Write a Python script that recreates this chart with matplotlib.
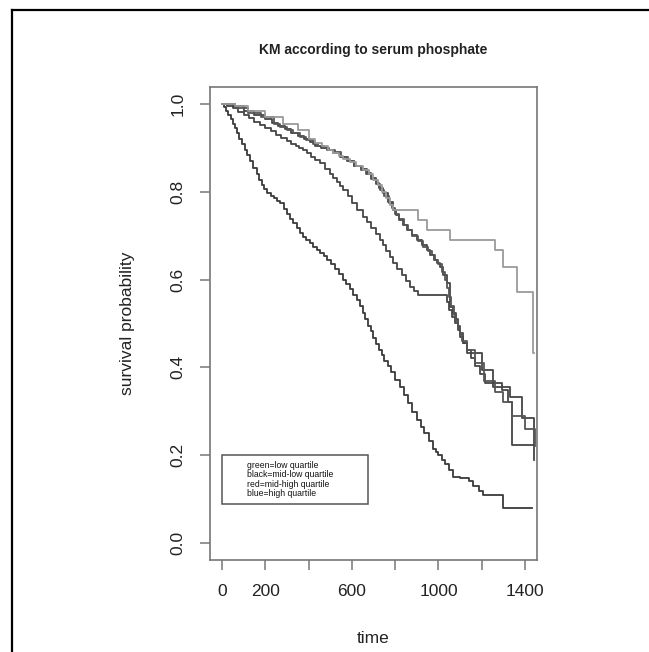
import matplotlib
matplotlib.use("Agg")
import matplotlib.pyplot as plt
from matplotlib.lines import Line2D

plt.rcParams['font.family'] = ['Liberation Sans', 'DejaVu Sans']

# Kaplan-Meier step points (time, survival)
low_t = [0, 10, 20, 30, 40, 50, 60, 70, 80, 92, 106, 118, 130, 145, 160, 172, 185, 196, 208, 225,
         240, 255, 268, 285, 300, 315, 330, 345, 360, 375, 390, 405, 420, 438, 455, 470, 485, 502,
         520, 540, 560, 575, 590, 607, 624, 638, 650, 663, 675, 687, 698, 712, 725, 738, 750, 765,
         780, 800, 822, 840, 860, 880, 900, 918, 935, 955, 975, 988, 1000, 1015, 1030, 1048, 1067,
         1100, 1140, 1160, 1185, 1206, 1298, 1432]
low_s = [1.0, 0.993, 0.985, 0.975, 0.965, 0.955, 0.945, 0.933, 0.92, 0.908, 0.895, 0.883, 0.87,
         0.855, 0.84, 0.828, 0.815, 0.806, 0.797, 0.791, 0.785, 0.779, 0.774, 0.762, 0.75, 0.739,
         0.728, 0.717, 0.706, 0.698, 0.69, 0.683, 0.675, 0.668, 0.66, 0.653, 0.645, 0.635, 0.625,
         0.612, 0.6, 0.589, 0.578, 0.566, 0.553, 0.539, 0.525, 0.51, 0.495, 0.482, 0.468, 0.454,
         0.44, 0.428, 0.415, 0.402, 0.39, 0.372, 0.355, 0.337, 0.318, 0.299, 0.28, 0.265, 0.25,
         0.232, 0.215, 0.207, 0.2, 0.19, 0.18, 0.165, 0.15, 0.148, 0.14, 0.13, 0.119, 0.108, 0.08,
         0.08]

midlow_t = [0, 25, 50, 75, 100, 125, 150, 175, 200, 225, 250, 275, 300, 320, 340, 357, 374, 392,
            410, 432, 453, 477, 500, 515, 530, 545, 560, 580, 600, 626, 652, 671, 690, 710, 730,
            745, 760, 775, 790, 810, 830, 850, 869, 888, 906, 1040, 1050, 1062, 1075, 1088, 1100,
            1115, 1131, 1150, 1169, 1192, 1215, 1292, 1323, 1339, 1440]
midlow_s = [1.0, 0.995, 0.99, 0.983, 0.975, 0.968, 0.96, 0.953, 0.945, 0.938, 0.93, 0.923, 0.915,
            0.91, 0.905, 0.9, 0.895, 0.888, 0.88, 0.873, 0.865, 0.853, 0.84, 0.831, 0.822, 0.813,
            0.804, 0.79, 0.775, 0.759, 0.743, 0.731, 0.718, 0.704, 0.69, 0.678, 0.665, 0.652,
            0.638, 0.624, 0.61, 0.597, 0.583, 0.574, 0.565, 0.55, 0.53, 0.515, 0.5, 0.485, 0.47,
            0.455, 0.44, 0.422, 0.403, 0.384, 0.364, 0.349, 0.322, 0.223, 0.223]

midhigh_t = [0, 50, 100, 150, 200, 230, 260, 290, 320, 350, 380, 405, 430, 458, 485, 515, 545,
             578, 610, 640, 670, 690, 710, 727, 744, 767, 790, 805, 820, 838, 855, 878, 900, 923,
             947, 963, 980, 993, 1007, 1023, 1040, 1054, 1067, 1080, 1090, 1100, 1115, 1131, 1200,
             1254, 1331, 1385, 1439]
midhigh_s = [1.0, 0.995, 0.985, 0.975, 0.965, 0.958, 0.95, 0.943, 0.935, 0.928, 0.92, 0.913,
             0.905, 0.9, 0.895, 0.888, 0.88, 0.87, 0.86, 0.852, 0.843, 0.832, 0.82, 0.808, 0.797,
             0.778, 0.758, 0.747, 0.735, 0.724, 0.713, 0.701, 0.69, 0.678, 0.667, 0.656, 0.645,
             0.637, 0.629, 0.61, 0.592, 0.538, 0.524, 0.51, 0.494, 0.478, 0.455, 0.432, 0.394,
             0.356, 0.333, 0.284, 0.19]

high_t = [0, 60, 120, 180, 240, 270, 300, 330, 360, 390, 420, 445, 470, 495, 520, 550, 580, 610,
          640, 665, 690, 710, 730, 750, 770, 785, 800, 820, 840, 860, 880, 905, 930, 950, 970, 985,
          1000, 1015, 1030, 1040, 1050, 1060, 1070, 1080, 1090, 1100, 1110, 1131, 1169, 1210,
          1260, 1300, 1340, 1400, 1445]
high_s = [1.0, 0.99, 0.98, 0.97, 0.955, 0.948, 0.94, 0.933, 0.925, 0.918, 0.91, 0.905, 0.9,
          0.895, 0.89, 0.88, 0.87, 0.86, 0.85, 0.84, 0.83, 0.818, 0.805, 0.79, 0.775, 0.763, 0.75,
          0.738, 0.725, 0.713, 0.7, 0.688, 0.675, 0.665, 0.655, 0.645, 0.635, 0.618, 0.6, 0.58,
          0.56, 0.54, 0.52, 0.505, 0.49, 0.475, 0.46, 0.44, 0.41, 0.37, 0.345, 0.32, 0.29, 0.26,
          0.22]

top_t = [0, 60, 120, 200, 280, 350, 400, 430, 460, 490, 513, 540, 560, 590, 620, 650, 680, 700,
         720, 740, 760, 775, 790, 906, 946, 1054, 1262, 1300, 1363, 1437, 1440]
top_s = [1.0, 0.995, 0.985, 0.97, 0.955, 0.94, 0.92, 0.912, 0.905, 0.896, 0.888, 0.881, 0.875,
         0.868, 0.86, 0.85, 0.84, 0.828, 0.815, 0.8, 0.785, 0.771, 0.758, 0.736, 0.713, 0.69,
         0.667, 0.629, 0.572, 0.433, 0.433]

legend_labels = ["green=low quartile", "black=mid-low quartile",
                 "red=mid-high quartile", "blue=high quartile"]
x_ticks = [0, 200, 400, 600, 800, 1000, 1200, 1400]
x_tick_labels = ["0", "200", "", "600", "", "1000", "", "1400"]
y_ticks = [0.0, 0.2, 0.4, 0.6, 0.8, 1.0]
y_tick_labels = ["0.0", "0.2", "0.4", "0.6", "0.8", "1.0"]

fig = plt.figure(figsize=(6.49, 6.52), dpi=100)
ax = fig.add_axes([0.3236, 0.1411, 0.5038, 0.7255])

dark = '#454545'
ax.plot(low_t, low_s, drawstyle='steps-post', color='#3a3a3a', lw=1.3)
ax.plot(midlow_t, midlow_s, drawstyle='steps-post', color=dark, lw=1.3)
ax.plot(midhigh_t, midhigh_s, drawstyle='steps-post', color=dark, lw=1.3)
ax.plot(high_t, high_s, drawstyle='steps-post', color='#555555', lw=1.3)
ax.plot(top_t, top_s, drawstyle='steps-post', color='#9a9a9a', lw=1.3)

ax.set_xlim(-55, 1455)
ax.set_ylim(-0.039, 1.039)
ax.set_xticks(x_ticks)
ax.set_xticklabels(x_tick_labels)
ax.set_yticks(y_ticks)
ax.set_yticklabels(y_tick_labels, rotation=90, va='center')

for sp in ax.spines.values():
    sp.set_color('#777777')
    sp.set_linewidth(1.2)
ax.tick_params(length=7.5, width=1.1, color='#777777', labelsize=12.5,
               labelcolor='#222222', pad=10)

ax.set_xlabel("time", fontsize=12.5, color='#222222', labelpad=23)
ax.set_ylabel("survival probability", fontsize=12.5, color='#222222', labelpad=26)
ax.set_title("KM according to serum phosphate", fontsize=10, fontweight='bold',
             color='#222222', pad=24)

handles = [Line2D([], [], color='none') for _ in legend_labels]
leg = ax.legend(handles, legend_labels, loc='upper left',
                bbox_to_anchor=(0.037, 0.123, 0.446, 0.099), mode='expand',
                borderaxespad=0, fontsize=6.2, handlelength=1.8, handletextpad=0.4,
                borderpad=0.7, labelspacing=0.05, fancybox=False, framealpha=1)
leg.get_frame().set_edgecolor('#555555')
leg.get_frame().set_linewidth(1.1)
for t in leg.get_texts():
    t.set_color('#111111')

# outer frame of the cropped figure (top and left edges)
fig.add_artist(Line2D([12 / 649, 1.0], [1 - 10 / 652, 1 - 10 / 652],
                      transform=fig.transFigure, color='black', lw=1.6))
fig.add_artist(Line2D([12 / 649, 12 / 649], [0.0, 1 - 10 / 652],
                      transform=fig.transFigure, color='black', lw=1.6))

fig.savefig("out.png", dpi=100)
